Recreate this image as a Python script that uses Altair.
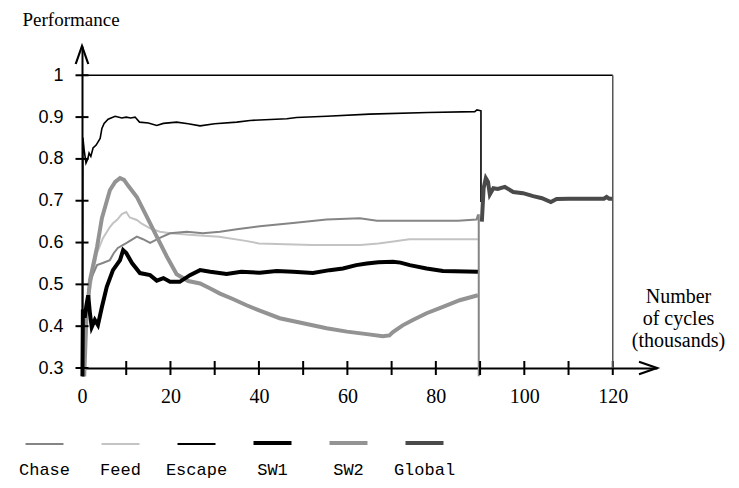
import altair as alt
import pandas as pd

series_names = ["Chase", "Feed", "Escape", "SW1", "SW2", "Global"]

# thousands of cycles / performance
chase_x = [0.3, 0.8, 1.5, 2.3, 3.4, 4.7, 6.3, 7.2, 8.1, 10.1, 12.4, 13.8, 15.4, 17.6, 19.9, 23.7, 27.3,
           31.2, 35, 40.2, 47.7, 55.3, 62.8, 66.7, 75, 85, 89.2, 89.5, 89.7, 89.7]
chase_y = [0.28, 0.42, 0.49, 0.52, 0.546, 0.551, 0.558, 0.575, 0.587, 0.599, 0.614, 0.608, 0.599, 0.611, 0.622,
           0.626, 0.622, 0.626, 0.632, 0.639, 0.647, 0.655, 0.658, 0.652, 0.652, 0.652, 0.655, 0.665, 0.665, 0.28]

feed_x = [0.4, 1.0, 1.7, 2.3, 3.4, 4.7, 6.3, 7.0, 8.0, 9.0, 10.0, 10.8, 12.4, 13.5, 15.4, 17.6, 20, 25, 31,
          37, 40, 46, 52, 63, 67, 70, 74, 89.5]
feed_y = [0.28, 0.42, 0.48, 0.517, 0.575, 0.61, 0.637, 0.646, 0.655, 0.668, 0.673, 0.66, 0.654, 0.645, 0.634,
          0.626, 0.622, 0.618, 0.614, 0.604, 0.598, 0.596, 0.594, 0.594, 0.598, 0.602, 0.608, 0.608]

escape_x = [0.1, 0.2, 0.5, 0.9, 1.3, 1.6, 2.0, 2.5, 3.2, 4.1, 4.5, 5.0, 5.9, 7.5, 9, 10, 11, 12, 13, 15, 16.9,
            18.4, 21.4, 24, 26.7, 30, 35, 38, 46.3, 48.5, 55.3, 65, 78.2, 88.8, 89.3, 90.2, 90.2]
escape_y = [0.28, 0.851, 0.82, 0.79, 0.80, 0.814, 0.806, 0.826, 0.833, 0.849, 0.873, 0.885, 0.895, 0.902, 0.898,
            0.9, 0.898, 0.9, 0.888, 0.886, 0.88, 0.885, 0.888, 0.884, 0.879, 0.884, 0.888, 0.892, 0.896, 0.899,
            0.902, 0.907, 0.911, 0.913, 0.917, 0.915, 0.697]

sw1_x = [0.1, 0.2, 0.6, 1.0, 1.4, 1.8, 2.2, 2.9, 3.6, 4.5, 5.6, 7.0, 8.6, 9.3, 10.0, 11.3, 13.1, 15.4, 16.9,
         18.4, 19.9, 22.1, 24.4, 26.7, 29, 32.7, 36, 40.2, 44, 47.7, 52.2, 56, 59, 62, 64.4, 67, 70.3, 72,
         74.1, 77.9, 81.6, 89.5]
sw1_y = [0.28, 0.44, 0.42, 0.45, 0.474, 0.43, 0.398, 0.415, 0.403, 0.446, 0.494, 0.534, 0.558, 0.582, 0.575,
         0.551, 0.527, 0.522, 0.509, 0.515, 0.506, 0.506, 0.522, 0.534, 0.53, 0.525, 0.53, 0.528, 0.532, 0.53,
         0.527, 0.534, 0.538, 0.546, 0.55, 0.553, 0.554, 0.552, 0.546, 0.538, 0.532, 0.53]

sw2_x = [0.5, 1.0, 1.8, 3.4, 4.5, 6.3, 7.5, 8.6, 9.5, 10.5, 12.4, 14.7, 16.9, 19.2, 21.4, 24, 26.7, 29, 31.2,
         34.1, 37.2, 40.2, 44.7, 50, 55.3, 59.9, 64.4, 68, 69.5, 70.3, 72.5, 74.8, 77.9, 81.6, 85.4, 89.5]
sw2_y = [0.28, 0.42, 0.51, 0.589, 0.658, 0.725, 0.745, 0.754, 0.75, 0.735, 0.709, 0.661, 0.614, 0.566, 0.524,
         0.508, 0.502, 0.49, 0.478, 0.465, 0.45, 0.437, 0.419, 0.407, 0.395, 0.387, 0.381, 0.376, 0.378, 0.386,
         0.402, 0.415, 0.431, 0.446, 0.462, 0.474]

global_x = [90.4, 90.8, 91.3, 91.8, 92.2, 93, 94, 95.6, 97.5, 99.7, 102, 104, 106, 107.3, 110, 118, 118.6,
            119.2, 120]
global_y = [0.65, 0.73, 0.754, 0.745, 0.715, 0.73, 0.728, 0.733, 0.721, 0.718, 0.711, 0.706, 0.697, 0.704,
            0.705, 0.705, 0.709, 0.705, 0.705]

x_label_values = [0, 20, 40, 60, 80, 100, 120]
x_tick_values = [10, 20, 30, 40, 50, 60, 70, 80, 90, 100, 110, 120]
y_tick_values = [0.3, 0.4, 0.5, 0.6, 0.7, 0.8, 0.9, 1.0]

series_data = {
    "Chase": (chase_x, chase_y),
    "Feed": (feed_x, feed_y),
    "Escape": (escape_x, escape_y),
    "SW1": (sw1_x, sw1_y),
    "SW2": (sw2_x, sw2_y),
    "Global": (global_x, global_y),
}
colors = {"Chase": "#858585", "Feed": "#c3c3c3", "Escape": "#000000",
          "SW1": "#000000", "SW2": "#939393", "Global": "#4a4a4a"}
widths = {"Chase": 2, "Feed": 2, "Escape": 1.6, "SW1": 4, "SW2": 4, "Global": 4}
draw_order = ["Feed", "Chase", "SW2", "SW1", "Escape", "Global"]

X_SCALE = alt.Scale(domain=[0, 130], nice=False, zero=False)
Y_SCALE = alt.Scale(domain=[0.3, 1.07], nice=False, zero=False)

x_axis = alt.Axis(values=x_label_values, format="d", labelFont="Liberation Serif", labelFontSize=20,
                  labelColor="black", labelPadding=18, labelOverlap=False, labelFlush=False,
                  ticks=False, tickSize=0,
                  domain=True, domainColor="black", domainWidth=2, grid=False,
                  title=["Number", "of cycles", "(thousands)"], titleFont="Liberation Serif",
                  titleFontSize=20, titleFontWeight="normal", titleColor="black", titleAngle=0,
                  titleAlign="center", titleBaseline="alphabetic", titleX=596, titleY=-66,
                  titleLineHeight=22)
y_axis = alt.Axis(values=y_tick_values, format=".1~f", labelFont="Liberation Sans", labelFontSize=18,
                  labelColor="black", labelPadding=19, labelOverlap=False, labelFlush=False,
                  ticks=False, tickSize=0,
                  domain=True, domainColor="black", domainWidth=2, grid=False,
                  title="Performance", titleFont="Liberation Serif", titleFontSize=19,
                  titleFontWeight="normal", titleColor="black", titleAngle=0, titleAlign="left",
                  titleBaseline="alphabetic", titleX=-60, titleY=-21)

layers = []
for name in draw_order:
    xs, ys = series_data[name]
    df = pd.DataFrame({"cycles": xs, "perf": ys, "idx": list(range(len(xs)))})
    layers.append(
        alt.Chart(df).mark_line(color=colors[name], strokeWidth=widths[name], clip=False).encode(
            x=alt.X("cycles:Q", scale=X_SCALE, axis=x_axis),
            y=alt.Y("perf:Q", scale=Y_SCALE, axis=y_axis),
            order=alt.Order("idx:Q"),
        )
    )

yticks = alt.Chart(pd.DataFrame({"v": y_tick_values})).mark_tick(
    orient="horizontal", size=13, thickness=2, color="black", opacity=1).encode(
    x=alt.datum(0), y=alt.Y("v:Q", scale=Y_SCALE, axis=y_axis))
xticks = alt.Chart(pd.DataFrame({"v": x_tick_values})).mark_tick(
    orient="vertical", size=14, thickness=2, color="black", opacity=1).encode(
    x=alt.X("v:Q", scale=X_SCALE, axis=x_axis), y=alt.datum(0.3))

top_rule = alt.Chart().mark_rule(color="black", strokeWidth=1.5).encode(
    x=alt.datum(0), x2=alt.datum(120), y=alt.datum(1.0))
right_rule = alt.Chart().mark_rule(color="#555555", strokeWidth=1.5).encode(
    x=alt.datum(120), y=alt.datum(0.3), y2=alt.datum(1.0))

arrow_up = alt.Chart().mark_point(shape="M-0.35,1L0,0L0.35,1", filled=False, size=1296, color="black",
                                  strokeWidth=2.2, opacity=1).encode(x=alt.datum(0), y=alt.datum(1.07))
arrow_right = alt.Chart().mark_point(shape="M-1,-0.35L0,0L-1,0.35", filled=False, size=1296, color="black",
                                     strokeWidth=2.2, opacity=1).encode(x=alt.datum(130), y=alt.datum(0.3))

main = alt.layer(*layers, yticks, xticks, top_rule, right_rule, arrow_up, arrow_right)

legend_df = pd.DataFrame({"series": series_names})
leg_x = alt.X("series:N", scale=alt.Scale(type="point", domain=series_names, range=[-37.5, 342.5], padding=0),
              axis=None)
leg_color = alt.Color("series:N", scale=alt.Scale(domain=series_names, range=[colors[n] for n in series_names]),
                      legend=None)
thin_names = ["Chase", "Feed", "Escape"]
thick_names = ["SW1", "SW2", "Global"]
leg_thin = alt.Chart(legend_df).transform_filter(
    alt.FieldOneOfPredicate(field="series", oneOf=thin_names)).mark_tick(
    orient="horizontal", size=38, thickness=2, opacity=1).encode(x=leg_x, y=alt.value(398), color=leg_color)
leg_thick = alt.Chart(legend_df).transform_filter(
    alt.FieldOneOfPredicate(field="series", oneOf=thick_names)).mark_tick(
    orient="horizontal", size=38, thickness=4, opacity=1).encode(x=leg_x, y=alt.value(397), color=leg_color)
leg_text = alt.Chart(legend_df).mark_text(font="Liberation Mono", fontSize=17, baseline="alphabetic",
                                          align="center", color="black").encode(
    x=leg_x, y=alt.value(429), text="series:N")
legend = alt.layer(leg_thin, leg_thick, leg_text)

chart = alt.layer(main, legend).resolve_scale(x="independent", color="independent").properties(
    width=575, height=322,
    autosize=alt.AutoSizeParams(type="none"),
    padding={"left": 74, "top": 38, "right": 74, "bottom": 112},
).configure_view(strokeWidth=0)

chart.save("out.html", embed_options={"renderer": "svg", "actions": False})
